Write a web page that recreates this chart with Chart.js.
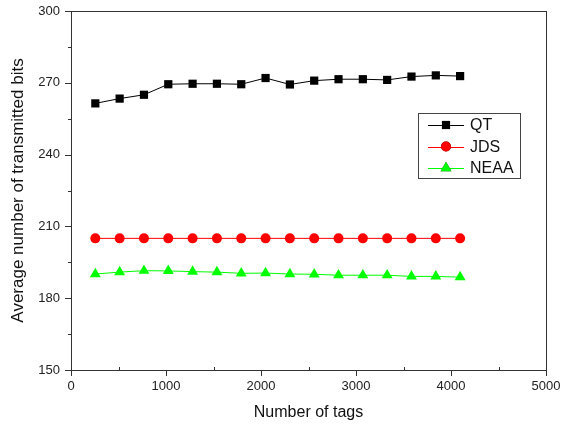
<!DOCTYPE html>
<html>
<head>
<meta charset="utf-8">
<script src="https://cdn.jsdelivr.net/npm/chart.js@4.4.1/dist/chart.umd.min.js"></script>
<style>
  html, body { margin: 0; padding: 0; background: #fff; }
  #wrap { width: 564px; height: 427px; }
</style>
</head>
<body>
<div id="wrap"><canvas id="c" width="564" height="427"></canvas></div>
<script>
// values
const tags = [256, 512, 768, 1024, 1280, 1536, 1792, 2048, 2304, 2560, 2816, 3072, 3328, 3584, 3840, 4096];
const qt = [261.4, 263.4, 265.0, 269.4, 269.6, 269.6, 269.4, 272.0, 269.3, 270.9, 271.5, 271.5, 271.2, 272.6, 273.1, 272.8];
const jds = [205, 205, 205, 205, 205, 205, 205, 205, 205, 205, 205, 205, 205, 205, 205, 205];
const neaa = [190.1, 190.9, 191.5, 191.4, 191.1, 190.9, 190.4, 190.5, 190.1, 190.0, 189.6, 189.6, 189.6, 189.1, 189.1, 188.8];

const FONT = "'Liberation Sans', Arial, sans-serif";
const AXIS = "#333";

function pts(ys) {
  return tags.map((x, i) => ({ x: x, y: ys[i] }));
}

// frame, tick marks and the boxed legend
const framePlugin = {
  id: "frame",
  afterDraw(chart) {
    const ctx = chart.ctx;
    const a = chart.chartArea;
    const xs = chart.scales.x;
    const ys = chart.scales.y;
    ctx.save();
    ctx.strokeStyle = AXIS;
    ctx.lineWidth = 1;
    ctx.strokeRect(a.left + 0.5, a.top + 0.5, a.right - a.left, a.bottom - a.top);

    ctx.beginPath();
    for (let v = 0; v <= 5000; v += 500) {
      const px = Math.round(xs.getPixelForValue(v)) + 0.5;
      if (v % 1000 === 0) {
        ctx.moveTo(px, a.bottom);
        ctx.lineTo(px, a.bottom + 6);
      } else {
        ctx.moveTo(px, a.bottom);
        ctx.lineTo(px, a.bottom - 3);
      }
    }
    for (let v = 150; v <= 300; v += 15) {
      const py = Math.round(ys.getPixelForValue(v)) + 0.5;
      const len = (v % 30 === 0) ? 6 : 3;
      ctx.moveTo(a.left, py);
      ctx.lineTo(a.left - len, py);
    }
    ctx.stroke();

    // legend
    const box = { x: 418, y: 113, w: 102, h: 65 };
    ctx.fillStyle = "#fff";
    ctx.fillRect(box.x, box.y, box.w, box.h);
    ctx.strokeStyle = "#444";
    ctx.strokeRect(box.x + 0.5, box.y + 0.5, box.w, box.h);
    ctx.font = "16px " + FONT;
    ctx.textBaseline = "middle";
    chart.data.datasets.forEach((ds, i) => {
      const cy = box.y + 12 + i * 21.5;
      ctx.strokeStyle = ds.borderColor;
      ctx.beginPath();
      ctx.moveTo(428, Math.round(cy) + 0.5);
      ctx.lineTo(464, Math.round(cy) + 0.5);
      ctx.stroke();
      Chart.helpers.drawPoint(ctx, {
        pointStyle: ds.pointStyle,
        radius: ds.pointRadius,
        borderWidth: 0
      }, 446, cy);
      ctx.fillStyle = ds.pointBackgroundColor;
      ctx.fill();
      ctx.fillStyle = "#111";
      ctx.fillText(ds.label, 470, cy + 1);
    });
    ctx.restore();
  }
};

new Chart(document.getElementById("c"), {
  type: "scatter",
  data: {
    datasets: [
      {
        label: "QT",
        data: pts(qt),
        showLine: true,
        borderColor: "#000",
        borderWidth: 1,
        pointStyle: "rect",
        pointRadius: 5.8,
        pointBackgroundColor: "#000",
        pointBorderWidth: 0
      },
      {
        label: "JDS",
        data: pts(jds),
        showLine: true,
        borderColor: "#ff0000",
        borderWidth: 1,
        pointStyle: "circle",
        pointRadius: 5,
        pointBackgroundColor: "#ff0000",
        pointBorderWidth: 0
      },
      {
        label: "NEAA",
        data: pts(neaa),
        showLine: true,
        borderColor: "#00ff00",
        borderWidth: 1,
        pointStyle: "triangle",
        pointRadius: 6.3,
        pointBackgroundColor: "#00ff00",
        pointBorderWidth: 0
      }
    ]
  },
  options: {
    responsive: false,
    animation: false,
    devicePixelRatio: 1,
    layout: { padding: { left: 0, right: 18, top: 11, bottom: 0 } },
    plugins: {
      legend: { display: false },
      tooltip: { enabled: false }
    },
    scales: {
      x: {
        type: "linear",
        min: 0,
        max: 5000,
        grid: { display: false, drawTicks: false },
        border: { display: false },
        ticks: {
          stepSize: 1000,
          padding: 9,
          maxRotation: 0,
          color: "#222",
          font: { family: FONT, size: 13 },
          callback: (v) => String(v)
        },
        title: {
          display: true,
          text: "Number of tags",
          color: "#111",
          padding: { top: 0, bottom: 5 },
          font: { family: FONT, size: 16 }
        },
        afterFit: (s) => {
          s.height = 57;
          s.paddingLeft = 0;
          s.paddingRight = 0;
        }
      },
      y: {
        min: 150,
        max: 300,
        grid: { display: false, drawTicks: false },
        border: { display: false },
        ticks: {
          stepSize: 30,
          padding: 11,
          color: "#222",
          font: { family: FONT, size: 13 },
          callback: (v) => String(v)
        },
        title: {
          display: true,
          text: "Average number of transmitted bits",
          color: "#111",
          padding: { top: 8, bottom: 0 },
          font: { family: FONT, size: 17 }
        },
        afterFit: (s) => {
          s.width = 71;
          s.paddingTop = 0;
          s.paddingBottom = 0;
        }
      }
    }
  },
  plugins: [framePlugin]
});
</script>
</body>
</html>
